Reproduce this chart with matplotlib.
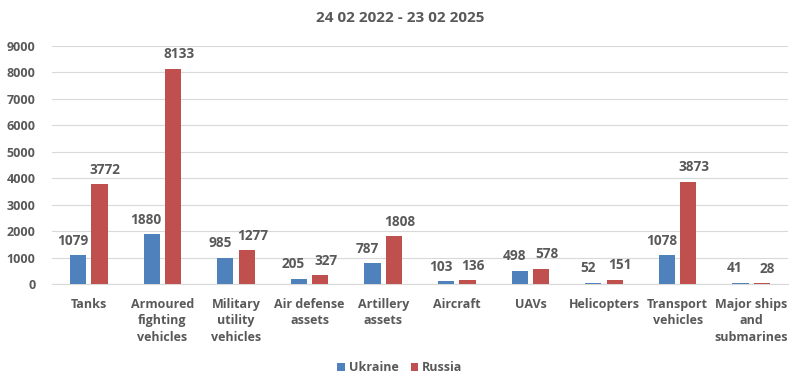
import numpy as np
import matplotlib.pyplot as plt

plt.rcParams['font.family'] = ['Open Sans', 'DejaVu Sans']

# Data
categories = ['Tanks', 'Armoured\nfighting\nvehicles', 'Military\nutility\nvehicles',
              'Air defense\nassets', 'Artillery\nassets', 'Aircraft', 'UAVs',
              'Helicopters', 'Transport\nvehicles', 'Major ships\nand\nsubmarines']
ukraine = [1079, 1880, 985, 205, 787, 103, 498, 52, 1078, 41]
russia = [3772, 8133, 1277, 327, 1808, 136, 578, 151, 3873, 28]
yticks = [0, 1000, 2000, 3000, 4000, 5000, 6000, 7000, 8000, 9000]

text_col = '#595959'
blue = '#4F81BD'
red = '#C0504D'

fig = plt.figure(figsize=(8, 3.89), dpi=100)
ax = fig.add_axes([0.065, 0.27, 0.92, 0.612])

x = np.arange(len(categories))
w = 0.22
off = 0.145
b1 = ax.bar(x - off, ukraine, w, color=blue, label='Ukraine', zorder=3)
b2 = ax.bar(x + off, russia, w, color=red, label='Russia', zorder=3)

# value labels, nudged outward a little like the original
for bars, dx in ((b1, -4), (b2, 4)):
    for bar in bars:
        h = bar.get_height()
        ax.annotate(f'{int(h)}', (bar.get_x() + bar.get_width() / 2, h),
                    xytext=(dx, 5.5), textcoords='offset points',
                    ha='center', va='bottom', fontsize=9.8, fontweight='bold',
                    color=text_col)

ax.set_xlim(-0.5, len(categories) - 0.5)
ax.set_ylim(0, 9000)
ax.set_yticks(yticks)
ax.set_yticklabels([str(t) for t in yticks], fontsize=9, fontweight='bold', color=text_col)
ax.set_xticks(x)
ax.set_xticklabels(categories, fontsize=9, fontweight='bold', color=text_col,
                   linespacing=1.35, va='top')
ax.tick_params(axis='both', length=0)
ax.tick_params(axis='x', pad=10)
ax.tick_params(axis='y', pad=12)
ax.grid(axis='y', color='#D9D9D9', linewidth=0.8, zorder=0)
for s in ['top', 'right', 'left']:
    ax.spines[s].set_visible(False)
ax.spines['bottom'].set_color('#D9D9D9')

fig.text(0.5, 0.953, '24 02 2022 - 23 02 2025', ha='center', va='center',
         fontsize=11, fontweight='bold', color=text_col)

leg = fig.legend(handles=[b1, b2], loc='center', bbox_to_anchor=(0.5, 0.055),
                 ncol=2, frameon=False, handlelength=0.6, handleheight=0.6,
                 handletextpad=0.3, columnspacing=1.0,
                 prop={'size': 9, 'weight': 'bold'})
for t in leg.get_texts():
    t.set_color(text_col)

plt.savefig('out.png', dpi=100)
